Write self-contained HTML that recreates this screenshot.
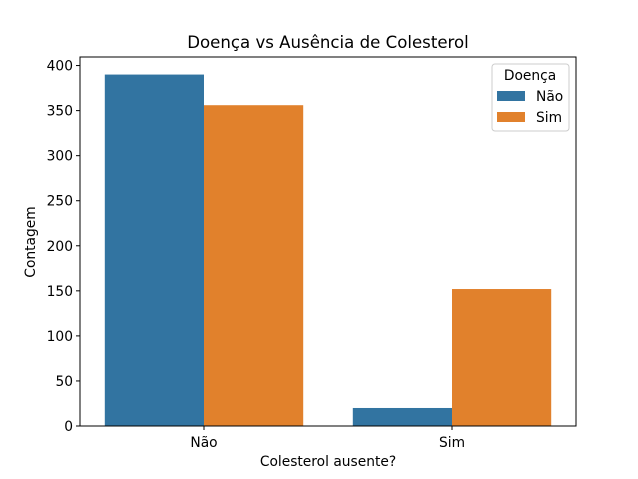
<!DOCTYPE html>
<html><head><meta charset="utf-8"><style>
html,body{margin:0;padding:0;background:#fff;}
svg{display:block;font-family:"DejaVu Sans","Liberation Sans",sans-serif;}
</style></head><body>
<svg id="chart" width="638" height="479" viewBox="0 0 638 479">
<rect width="638" height="479" fill="#fff"/>
<text x="328" y="48" font-size="16.6" text-anchor="middle" fill="#000">Doença vs Ausência de Colesterol</text>
<g id="bars"></g>
<g id="yticks"></g>
<g id="xticks"></g>
<rect x="80" y="57" width="496" height="369" fill="none" stroke="#000" stroke-width="1"/>
<text x="328" y="466" font-size="13.8" text-anchor="middle">Colesterol ausente?</text>
<text transform="translate(35,242) rotate(-90)" font-size="13.8" text-anchor="middle">Contagem</text>
<g>
<rect x="492" y="64" width="77" height="67" rx="3" fill="#fff" fill-opacity="0.8" stroke="#ccc"/>
<text x="530" y="80" font-size="13.8" text-anchor="middle">Doença</text>
<rect x="497" y="91" width="28" height="10" fill="#3274a1"/>
<text x="536" y="101" font-size="13.8">Não</text>
<rect x="497" y="112" width="28" height="10" fill="#e1812c"/>
<text x="536" y="122" font-size="13.8">Sim</text>
</g>
</svg>
<script>
const categories = ["Não", "Sim"];
const seriesNames = ["Não", "Sim"];
const seriesNao = [390, 20];
const seriesSim = [356, 152];
const yTicks = [0, 50, 100, 150, 200, 250, 300, 350, 400];
const colors = ["#3274a1", "#e1812c"];
const NS = "http://www.w3.org/2000/svg";
const L = 80, R = 576, B = 426, T = 57, YMAX = 409.5;
const xs = v => L + (v + 0.5) / 2 * (R - L);
const ys = v => B - v / YMAX * (B - T);
const barW = 0.4;
const bars = document.getElementById("bars");
[seriesNao, seriesSim].forEach((s, si) => {
  s.forEach((v, ci) => {
    const x0 = xs(ci - barW + si * barW), x1 = xs(ci + si * barW);
    const r = document.createElementNS(NS, "rect");
    r.setAttribute("x", x0); r.setAttribute("width", x1 - x0);
    r.setAttribute("y", ys(v)); r.setAttribute("height", B - ys(v));
    r.setAttribute("fill", colors[si]);
    
    
    bars.appendChild(r);
  });
});
const yg = document.getElementById("yticks");
yTicks.forEach(t => {
  const y = ys(t);
  const l = document.createElementNS(NS, "line");
  l.setAttribute("x1", L - 4); l.setAttribute("x2", L); l.setAttribute("y1", y); l.setAttribute("y2", y);
  l.setAttribute("stroke", "#000");
  
  
  yg.appendChild(l);
  const tx = document.createElementNS(NS, "text");
  tx.setAttribute("x", L - 7); tx.setAttribute("y", y + 5);
  tx.setAttribute("font-size", "13.8"); tx.setAttribute("text-anchor", "end");
  tx.textContent = t;
  
  
  yg.appendChild(tx);
});
const xg = document.getElementById("xticks");
categories.forEach((c, i) => {
  const x = xs(i);
  const l = document.createElementNS(NS, "line");
  l.setAttribute("x1", x); l.setAttribute("x2", x); l.setAttribute("y1", B); l.setAttribute("y2", B + 4);
  l.setAttribute("stroke", "#000");
  
  
  xg.appendChild(l);
  const tx = document.createElementNS(NS, "text");
  tx.setAttribute("x", x); tx.setAttribute("y", B + 21);
  tx.setAttribute("font-size", "13.8"); tx.setAttribute("text-anchor", "middle");
  tx.textContent = c;
  
  
  xg.appendChild(tx);
});
</script>
</body></html>
